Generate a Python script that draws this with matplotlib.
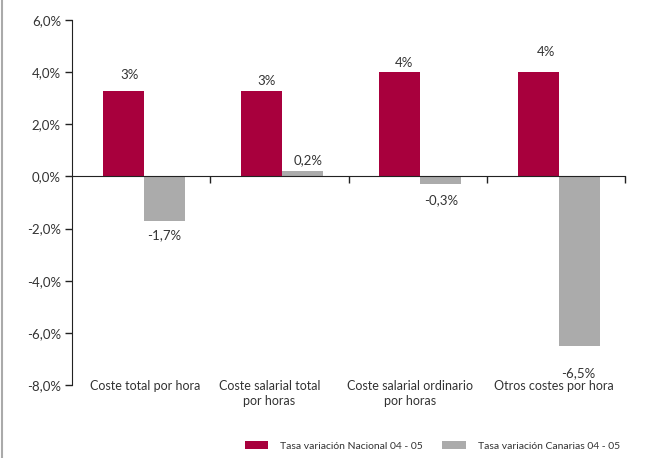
import matplotlib
matplotlib.use('Agg')
from matplotlib import pyplot as plt
from matplotlib.lines import Line2D
from matplotlib.ticker import FuncFormatter

# data
categorias = ['Coste total por hora', 'Coste salarial total\npor horas',
              'Coste salarial ordinario\npor horas', 'Otros costes por hora']
nacional = [3.27, 3.27, 4.0, 4.0]
canarias = [-1.7, 0.2, -0.3, -6.5]
etiquetas_nacional = ['3%', '3%', '4%', '4%']
etiquetas_canarias = ['-1,7%', '0,2%', '-0,3%', '-6,5%']
serie_nombres = ['Tasa variación Nacional 04 - 05', 'Tasa variación Canarias 04 - 05']

# label offsets in pixels (the original places them a bit irregularly)
offs_nac = [(6, 16), (5, 10), (4, 9), (8, 20)]
offs_can = [(0, -14), (6, 11), (0, -16), (-1, -27)]
# category label nudges in pixels
offs_cat = [(4, 5), (-10, 5), (-8, 5), (-2, 5)]

rojo = '#A8003D'
gris = '#ABABAB'
texto = '#333333'

plt.rcParams['font.family'] = ['Lato', 'DejaVu Sans']
plt.rcParams['text.color'] = texto

fig = plt.figure(figsize=(6.58, 4.58), dpi=100)
ax = fig.add_axes([72/658., 1 - 385/458., (625 - 72)/658., (385 - 20)/458.])

x = list(range(len(categorias)))
ancho = 0.296
x_nac = [i - 0.128 for i in x]
x_can = [i + 0.168 for i in x]
b1 = ax.bar(x_nac, nacional, ancho, color=rojo, label=serie_nombres[0])
b2 = ax.bar(x_can, canarias, ancho, color=gris, label=serie_nombres[1])

for xi, v, lab, off in zip(x_nac, nacional, etiquetas_nacional, offs_nac):
    ax.annotate(lab, (xi, v), xytext=off, textcoords='offset pixels',
                ha='center', va='center', fontsize=9.5, color=texto)
for xi, v, lab, off in zip(x_can, canarias, etiquetas_canarias, offs_can):
    ax.annotate(lab, (xi, v), xytext=off, textcoords='offset pixels',
                ha='center', va='center', fontsize=9.5, color=texto)

ax.set_xlim(-0.5, len(categorias) - 0.5)
ax.set_ylim(-8, 6)
ax.set_yticks(range(-8, 7, 2))
ax.yaxis.set_major_formatter(FuncFormatter(lambda v, p: '{:.1f}%'.format(v).replace('.', ',')))
ax.tick_params(axis='y', length=5, width=1, color='#222222', labelsize=9.5,
               labelcolor=texto, pad=3)

# zero line with ticks at category boundaries
ax.spines['bottom'].set_position(('data', 0))
ax.spines['top'].set_visible(False)
ax.spines['right'].set_visible(False)
ax.spines['left'].set_color('#222222')
ax.spines['bottom'].set_color('#222222')
ax.set_xticks([i + 0.5 for i in x])
ax.set_xticklabels([])
ax.tick_params(axis='x', length=5, width=1, color='#222222', direction='out')

for i, cat, off in zip(x, categorias, offs_cat):
    ax.annotate(cat, (i, -8), xytext=off, textcoords='offset pixels',
                ha='center', va='top', fontsize=9, color=texto,
                multialignment='center', linespacing=1.3)

fig.legend(handles=[b1, b2], labels=serie_nombres, loc='center right',
           bbox_to_anchor=(620/658., 1 - 446/458.), ncol=2, frameon=False,
           fontsize=7.5, handlelength=2.3, handleheight=0.7, handletextpad=1.15,
           columnspacing=1.8, borderpad=0, borderaxespad=0)

# grey border on the left edge
fig.add_artist(Line2D([1.5/658., 1.5/658.], [0, 1], transform=fig.transFigure,
                      color='#AAAAAA', lw=1.5))

fig.savefig('out.png', dpi=100)
